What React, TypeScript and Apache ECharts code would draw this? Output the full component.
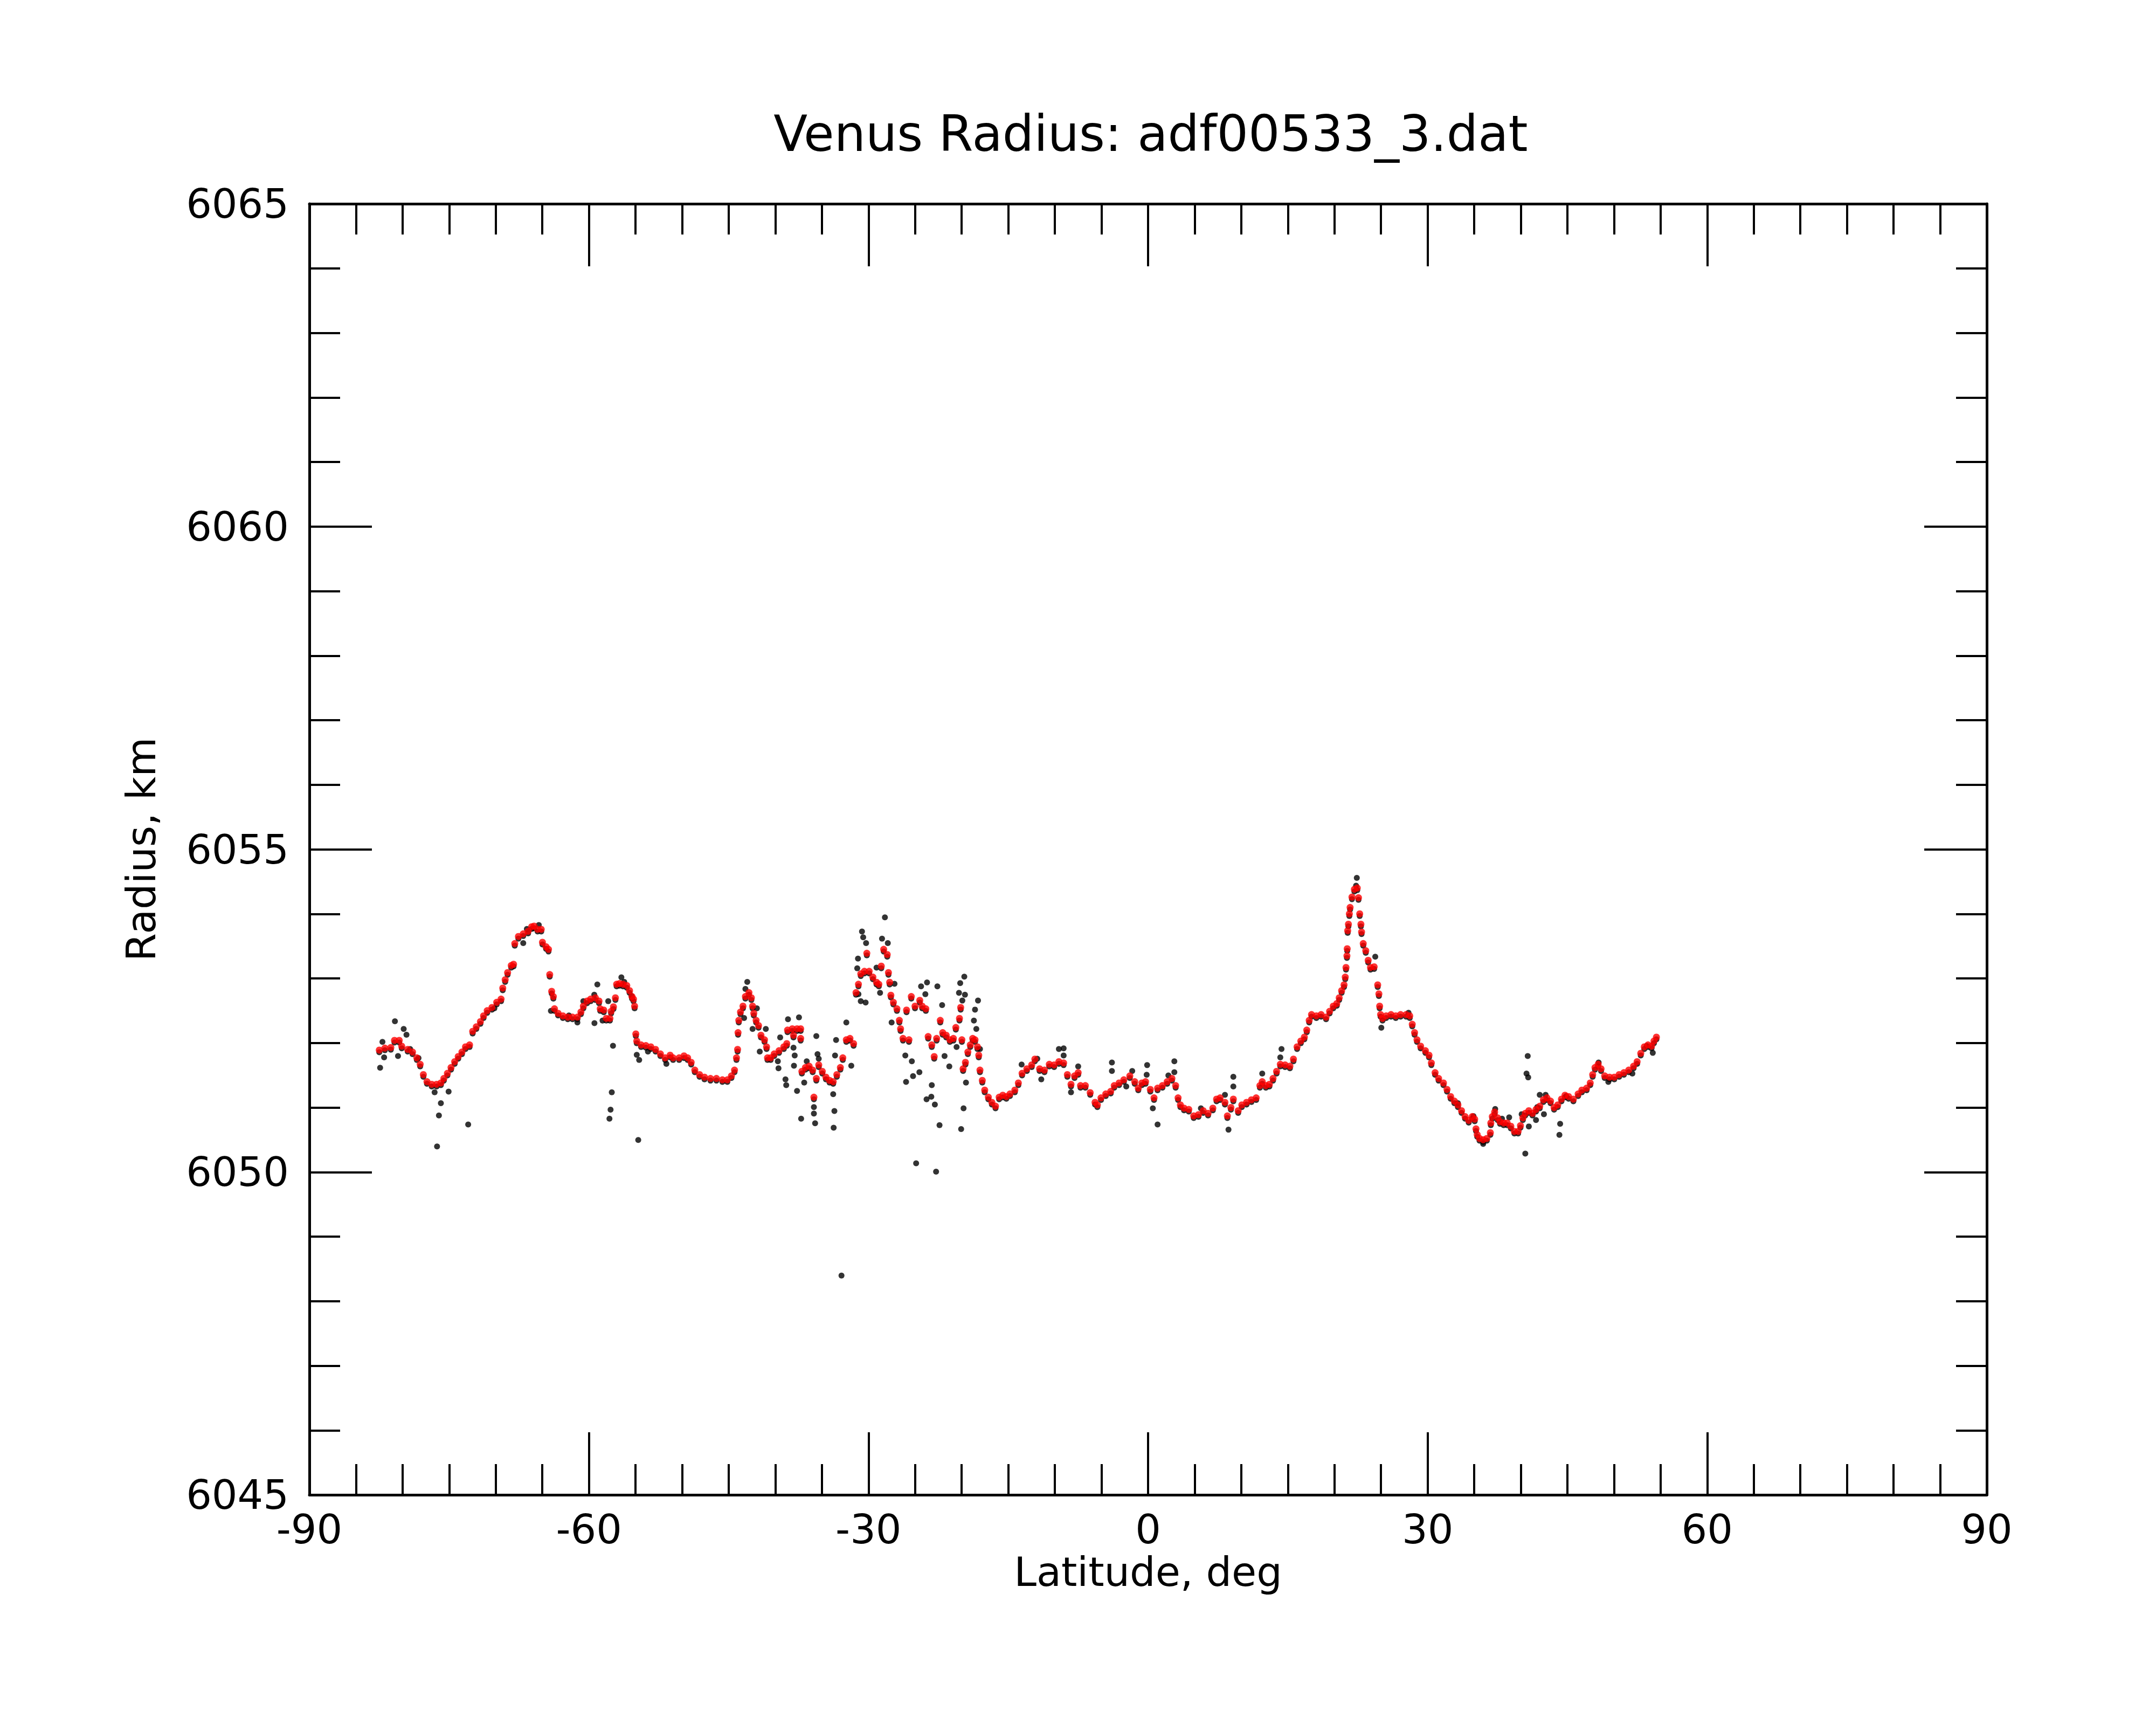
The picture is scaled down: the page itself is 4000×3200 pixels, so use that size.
import React, { useEffect, useRef } from "react";
import * as echarts from "echarts";

const titleText = "Venus Radius: adf00533_3.dat";
const xName = "Latitude, deg";
const yName = "Radius, km";

// smoothed radius (red), [latitude, radius]
const redSouthPolar: [number, number][] = [
  [-82.5, 6051.89], [-81.9, 6051.92], [-81.26, 6051.93], [-80.87, 6052.04], [-80.36, 6052.04],
  [-80.09, 6051.95], [-79.45, 6051.9], [-78.93, 6051.86], [-78.47, 6051.77], [-78.11, 6051.67],
  [-77.77, 6051.51], [-77.38, 6051.4], [-76.87, 6051.36], [-76.35, 6051.36], [-75.89, 6051.38],
  [-75.57, 6051.45], [-75.19, 6051.53], [-74.8, 6051.62], [-74.41, 6051.71], [-74.03, 6051.79],
  [-73.63, 6051.86], [-73.25, 6051.94], [-72.81, 6051.97], [-72.48, 6052.18], [-72.09, 6052.25],
  [-71.65, 6052.33], [-71.31, 6052.42], [-70.92, 6052.5], [-70.41, 6052.55], [-69.9, 6052.63],
  [-69.43, 6052.68], [-69.25, 6052.85], [-68.99, 6052.98], [-68.73, 6053.09], [-68.34, 6053.2],
  [-68.09, 6053.22], [-67.96, 6053.54], [-67.57, 6053.65], [-67.05, 6053.69], [-66.53, 6053.73],
  [-66.15, 6053.8], [-65.89, 6053.81], [-65.51, 6053.76], [-65.12, 6053.76], [-64.99, 6053.56],
  [-64.6, 6053.49], [-64.34, 6053.45], [-64.21, 6053.06], [-64.0, 6052.8], [-63.82, 6052.72],
  [-63.7, 6052.53], [-63.31, 6052.46], [-62.8, 6052.42], [-62.27, 6052.4], [-61.76, 6052.4],
  [-61.24, 6052.4], [-60.86, 6052.48], [-60.6, 6052.57], [-60.2, 6052.65], [-59.82, 6052.68],
  [-59.31, 6052.7], [-58.92, 6052.65], [-58.79, 6052.53], [-58.41, 6052.51], [-58.14, 6052.38],
  [-57.75, 6052.38], [-57.62, 6052.49], [-57.37, 6052.56], [-57.16, 6052.7], [-57.03, 6052.91],
  [-56.72, 6052.92], [-56.34, 6052.91], [-55.94, 6052.89], [-55.64, 6052.81], [-55.38, 6052.72],
  [-55.22, 6052.68], [-55.1, 6052.57], [-54.97, 6052.14], [-54.87, 6052.03], [-54.4, 6051.97],
  [-53.89, 6051.96], [-53.36, 6051.94], [-52.85, 6051.9], [-52.33, 6051.83], [-51.82, 6051.77],
  [-51.29, 6051.81],
];

const redMidSouth: [number, number][] = [
  [-50.97, 6051.77], [-50.32, 6051.77], [-49.8, 6051.8], [-49.41, 6051.77], [-49.03, 6051.7],
  [-48.64, 6051.58], [-48.13, 6051.51], [-47.6, 6051.47], [-46.96, 6051.45], [-46.32, 6051.45],
  [-45.68, 6051.43], [-45.15, 6051.43], [-44.71, 6051.49], [-44.38, 6051.58], [-44.17, 6051.77],
  [-44.05, 6051.9], [-44.0, 6052.16], [-43.92, 6052.35], [-43.74, 6052.48], [-43.47, 6052.57],
  [-43.21, 6052.72], [-42.83, 6052.78], [-42.57, 6052.7], [-42.44, 6052.57], [-42.31, 6052.46],
  [-42.06, 6052.35], [-41.8, 6052.27], [-41.54, 6052.12], [-41.16, 6052.05], [-40.94, 6051.94],
  [-40.84, 6051.77], [-40.5, 6051.77], [-40.12, 6051.83], [-39.6, 6051.88], [-39.09, 6051.94],
  [-38.77, 6051.99], [-38.69, 6052.2], [-38.18, 6052.22], [-38.05, 6052.12], [-37.67, 6052.22],
  [-37.28, 6052.22], [-37.28, 6052.07], [-37.15, 6051.56], [-36.77, 6051.62], [-36.37, 6051.64],
  [-35.99, 6051.58], [-35.86, 6051.16], [-35.6, 6051.45], [-35.34, 6051.66], [-34.96, 6051.56],
  [-34.57, 6051.47], [-34.18, 6051.42], [-33.79, 6051.4], [-33.4, 6051.51], [-33.02, 6051.62],
  [-32.76, 6051.77], [-32.38, 6052.05], [-31.99, 6052.07], [-31.6, 6051.99], [-31.34, 6052.78],
  [-31.08, 6052.91], [-30.83, 6053.07], [-30.44, 6053.11], [-30.18, 6053.39], [-29.93, 6053.11],
  [-29.53, 6053.02], [-29.14, 6052.94], [-28.89, 6052.91], [-28.63, 6053.19], [-28.37, 6053.45],
  [-27.99, 6053.37], [-27.86, 6053.09], [-27.73, 6052.94], [-27.6, 6052.74], [-27.33, 6052.63],
  [-26.95, 6052.53], [-26.69, 6052.35], [-26.56, 6052.22], [-26.3, 6052.07], [-25.92, 6052.51],
  [-25.66, 6052.05], [-25.41, 6052.72], [-25.01, 6052.57], [-24.5, 6052.66], [-24.24, 6052.57],
  [-23.85, 6052.53], [-23.6, 6052.1], [-23.21, 6051.97], [-22.95, 6051.79], [-22.69, 6052.07],
  [-22.3, 6052.35], [-22.04, 6052.16], [-21.66, 6052.12], [-21.27, 6052.05], [-20.89, 6052.07],
  [-20.63, 6052.24], [-20.24, 6052.38], [-20.11, 6052.55], [-19.98, 6052.05], [-19.85, 6051.6],
  [-19.6, 6051.7], [-19.34, 6051.86], [-19.08, 6051.97], [-18.82, 6052.07], [-18.57, 6052.05],
  [-18.31, 6051.94], [-18.17, 6051.81], [-18.04, 6051.58], [-17.79, 6051.42], [-17.53, 6051.27],
  [-17.14, 6051.16], [-16.76, 6051.08], [-16.37, 6051.02], [-15.98, 6051.16], [-15.59, 6051.19],
  [-15.21, 6051.17], [-14.82, 6051.21], [-14.3, 6051.27], [-13.92, 6051.38], [-13.52, 6051.53],
  [-13.01, 6051.6], [-12.49, 6051.66],
];

const redEquatorial: [number, number][] = [
  [-12.15, 6051.75], [-11.64, 6051.6], [-11.12, 6051.58], [-10.6, 6051.67], [-10.08, 6051.66],
  [-9.57, 6051.71], [-9.06, 6051.69], [-8.66, 6051.51], [-8.27, 6051.36], [-7.89, 6051.49],
  [-7.5, 6051.54], [-7.25, 6051.34], [-6.73, 6051.34], [-6.21, 6051.23], [-5.69, 6051.08],
  [-5.44, 6051.04], [-5.05, 6051.15], [-4.54, 6051.21], [-4.01, 6051.25], [-3.63, 6051.34],
  [-3.11, 6051.38], [-2.6, 6051.43], [-1.96, 6051.49], [-1.43, 6051.4], [-1.05, 6051.3],
  [-0.66, 6051.38], [-0.27, 6051.4], [0.24, 6051.28], [0.64, 6051.15], [1.02, 6051.3],
  [1.54, 6051.34], [2.05, 6051.4], [2.56, 6051.45], [2.96, 6051.34], [3.22, 6051.15],
  [3.47, 6051.04], [3.86, 6050.99], [4.37, 6050.97], [4.9, 6050.87], [5.41, 6050.89],
  [5.92, 6050.95], [6.44, 6050.91], [6.95, 6050.99], [7.35, 6051.13], [7.73, 6051.15],
  [8.25, 6051.08], [8.51, 6050.87], [8.89, 6051.0], [9.15, 6051.13], [9.67, 6050.95],
  [10.06, 6051.04], [10.57, 6051.08], [11.09, 6051.12], [11.6, 6051.15], [12.0, 6051.34],
  [12.25, 6051.4], [12.64, 6051.34], [13.02, 6051.36], [13.41, 6051.45], [13.79, 6051.56],
  [14.19, 6051.67], [14.7, 6051.66], [15.22, 6051.64], [15.6, 6051.75], [15.99, 6051.94],
  [16.39, 6052.03], [16.77, 6052.09], [17.03, 6052.2], [17.29, 6052.35], [17.54, 6052.44],
  [18.06, 6052.42], [18.57, 6052.44], [19.1, 6052.4], [19.48, 6052.49], [19.87, 6052.57],
  [20.25, 6052.61], [20.51, 6052.7], [20.77, 6052.81], [21.03, 6052.9], [21.16, 6053.02],
  [21.24, 6053.17], [21.34, 6053.35], [21.37, 6053.46], [21.42, 6053.74], [21.5, 6053.84],
  [21.6, 6054.0], [21.68, 6054.1], [21.88, 6054.26], [22.14, 6054.38], [22.45, 6054.4],
  [22.58, 6054.25], [22.71, 6054.0], [22.84, 6053.84], [22.91, 6053.72], [23.09, 6053.54],
  [23.36, 6053.43], [23.62, 6053.28], [23.87, 6053.17], [24.26, 6053.18], [24.64, 6052.9],
  [24.77, 6052.76], [24.85, 6052.57], [24.95, 6052.44], [25.16, 6052.38], [25.55, 6052.42],
  [26.07, 6052.44], [26.58, 6052.42], [27.1, 6052.44],
];

const redNorth: [number, number][] = [
  [27.69, 6052.44], [28.08, 6052.42], [28.35, 6052.29], [28.6, 6052.16], [28.86, 6052.05],
  [29.25, 6051.95], [29.76, 6051.88], [30.15, 6051.81], [30.4, 6051.69], [30.8, 6051.54],
  [31.18, 6051.45], [31.7, 6051.38], [32.08, 6051.28], [32.47, 6051.17], [32.87, 6051.1],
  [33.25, 6051.04], [33.64, 6050.95], [34.02, 6050.86], [34.41, 6050.8], [34.79, 6050.86],
  [35.05, 6050.82], [35.19, 6050.67], [35.32, 6050.58], [35.57, 6050.52], [35.96, 6050.5],
  [36.35, 6050.52], [36.73, 6050.61], [36.78, 6050.76], [36.94, 6050.86], [37.19, 6050.93],
  [37.51, 6050.84], [37.77, 6050.78], [38.16, 6050.76], [38.54, 6050.76], [38.93, 6050.71],
  [39.31, 6050.63], [39.71, 6050.63], [39.96, 6050.72], [40.22, 6050.84], [40.48, 6050.91],
  [40.86, 6050.95], [41.25, 6050.91], [41.63, 6050.97], [42.03, 6051.02], [42.42, 6051.12],
  [42.8, 6051.15], [43.19, 6051.1], [43.57, 6051.0], [43.96, 6051.04], [44.36, 6051.13],
  [44.74, 6051.19], [45.13, 6051.17], [45.64, 6051.13], [46.15, 6051.21], [46.55, 6051.27],
  [47.06, 6051.3], [47.45, 6051.38], [47.71, 6051.51], [47.96, 6051.62], [48.3, 6051.67],
  [48.61, 6051.6], [49.0, 6051.49], [49.52, 6051.47], [50.03, 6051.47], [50.55, 6051.51],
  [51.06, 6051.54], [51.58, 6051.58], [52.1, 6051.64], [52.48, 6051.71], [52.87, 6051.84],
  [53.25, 6051.94], [53.65, 6051.97], [54.03, 6051.95], [54.29, 6052.03], [54.55, 6052.09],
];

// raw radius points that stand apart from the smoothed curve (black)
const blackSouthPolar: [number, number][] = [
  [-82.41, 6051.65], [-81.98, 6051.81], [-82.16, 6052.05], [-80.82, 6052.37], [-79.88, 6052.25],
  [-79.58, 6052.16], [-80.49, 6051.83], [-79.19, 6051.94], [-78.29, 6051.8], [-76.56, 6051.27],
  [-75.89, 6051.1], [-76.1, 6050.91], [-76.3, 6050.43], [-75.06, 6051.28], [-72.96, 6050.77],
  [-70.15, 6052.57], [-67.05, 6053.58], [-66.66, 6053.8], [-65.38, 6053.86], [-64.08, 6052.53],
  [-62.15, 6052.46], [-61.24, 6052.35], [-60.6, 6052.68], [-59.41, 6052.34], [-59.1, 6052.94],
  [-59.43, 6052.78], [-58.54, 6052.38], [-57.93, 6052.68], [-57.42, 6051.99], [-57.55, 6051.27],
  [-57.68, 6051.0], [-57.8, 6050.86], [-56.52, 6053.05], [-56.21, 6052.98], [-55.43, 6052.76],
  [-54.87, 6051.85], [-54.61, 6051.77], [-54.71, 6050.53], [-53.67, 6051.9], [-51.69, 6051.71],
];

const blackMidSouth: [number, number][] = [
  [-43.01, 6052.98], [-43.21, 6052.87], [-43.35, 6052.42], [-42.44, 6052.25], [-41.98, 6052.57],
  [-41.67, 6051.9], [-41.02, 6052.25], [-39.73, 6051.75], [-39.66, 6051.64], [-39.48, 6052.12],
  [-38.91, 6051.47], [-38.83, 6051.38], [-38.64, 6052.4], [-38.05, 6051.96], [-37.92, 6051.84],
  [-38.0, 6051.68], [-37.46, 6052.43], [-37.67, 6051.29], [-37.23, 6050.86], [-36.9, 6051.42],
  [-36.63, 6051.75], [-35.6, 6052.14], [-35.47, 6051.86], [-35.34, 6051.79], [-35.86, 6051.04],
  [-35.86, 6050.94], [-35.73, 6050.79], [-33.79, 6051.24], [-33.66, 6050.98], [-33.74, 6050.72],
  [-33.48, 6052.08], [-33.59, 6051.84], [-32.38, 6052.35], [-31.85, 6051.68], [-32.9, 6048.43],
  [-31.08, 6052.79], [-31.13, 6053.34], [-30.7, 6053.76], [-30.57, 6053.67], [-30.26, 6053.58],
  [-31.21, 6053.19], [-30.83, 6052.68], [-30.31, 6052.66], [-28.55, 6053.65], [-28.24, 6053.98],
  [-27.93, 6053.58], [-29.14, 6053.2], [-28.76, 6052.81], [-27.21, 6052.95], [-27.52, 6052.35],
  [-26.05, 6051.84], [-25.97, 6051.43], [-25.35, 6051.75], [-25.22, 6051.52], [-24.54, 6051.58],
  [-24.89, 6050.17], [-22.75, 6050.04], [-23.77, 6051.16], [-23.26, 6051.2], [-23.21, 6051.38],
  [-22.88, 6051.08], [-22.38, 6050.76], [-23.72, 6052.97], [-24.36, 6052.91], [-23.9, 6052.79],
  [-22.61, 6052.91], [-22.1, 6052.62], [-21.84, 6051.83], [-21.33, 6051.67], [-20.55, 6051.97],
  [-20.16, 6052.96], [-19.72, 6053.06], [-20.29, 6052.81], [-19.65, 6052.78], [-19.93, 6052.69],
  [-19.54, 6051.42], [-19.8, 6051.02], [-20.06, 6050.7], [-18.25, 6052.69], [-18.57, 6052.55],
  [-18.43, 6052.25], [-18.69, 6052.38], [-18.04, 6051.94], [-13.57, 6051.7], [-11.46, 6051.47],
];

const blackEquatorial: [number, number][] = [
  [-11.89, 6051.79], [-9.57, 6051.94], [-9.06, 6051.95], [-9.06, 6051.84], [-7.5, 6051.67],
  [-8.27, 6051.27], [-3.88, 6051.73], [-3.88, 6051.6], [-1.7, 6051.6], [-2.34, 6051.36],
  [-0.1, 6051.69], [-0.15, 6051.54], [0.51, 6051.02], [1.02, 6050.77], [2.82, 6051.75],
  [2.82, 6051.58], [2.18, 6051.53], [9.15, 6051.51], [9.15, 6051.36], [8.63, 6050.69],
  [8.25, 6051.23], [5.67, 6051.02], [12.25, 6051.56], [14.32, 6051.94], [14.19, 6051.81],
  [24.38, 6053.37], [25.03, 6052.27], [22.4, 6054.59], [22.32, 6054.47],
];

const blackNorth: [number, number][] = [
  [27.95, 6052.5], [33.25, 6051.1], [34.92, 6050.9], [35.96, 6050.47], [37.25, 6051.01],
  [38.75, 6050.88], [37.98, 6050.86], [40.74, 6051.83], [40.61, 6051.56], [40.79, 6051.5],
  [40.48, 6050.32], [40.86, 6050.74], [40.09, 6050.93], [41.63, 6050.84], [42.03, 6051.23],
  [42.66, 6051.23], [42.48, 6050.93], [41.76, 6051.04], [44.22, 6050.78], [44.14, 6050.61],
  [44.87, 6051.21], [48.35, 6051.73], [49.39, 6051.43], [51.97, 6051.56], [53.51, 6051.99],
  [54.16, 6051.88],
];

const xTicks = { min: -90, max: 90, step: 30, minorSplit: 6 };
const yTicks = { min: 6045, max: 6065, step: 5, minorSplit: 5 };

const FONT = "DejaVu Sans";

export default function App() {
  const ref = useRef<HTMLDivElement | null>(null);

  useEffect(() => {
    if (!ref.current) return;
    const chart = echarts.init(ref.current, undefined, { renderer: "svg" });

    const red = [...redSouthPolar, ...redMidSouth, ...redEquatorial, ...redNorth];
    const black = [
      ...red,
      ...blackSouthPolar,
      ...blackMidSouth,
      ...blackEquatorial,
      ...blackNorth,
    ];

    const lineStyle = { color: "#000", width: 5 };
    const tickStyle = { color: "#000", width: 4 };

    const xBase = {
      type: "value" as const,
      min: xTicks.min,
      max: xTicks.max,
      interval: xTicks.step,
      splitLine: { show: false },
      axisLine: { show: true, onZero: false, lineStyle },
      axisTick: { show: true, inside: true, length: 116, lineStyle: tickStyle },
      minorTick: { show: true, splitNumber: xTicks.minorSplit, length: 57, lineStyle: tickStyle },
      minorSplitLine: { show: false },
    };
    const yBase = {
      type: "value" as const,
      min: yTicks.min,
      max: yTicks.max,
      interval: yTicks.step,
      splitLine: { show: false },
      axisLine: { show: true, onZero: false, lineStyle },
      axisTick: { show: true, inside: true, length: 116, lineStyle: tickStyle },
      minorTick: { show: true, splitNumber: yTicks.minorSplit, length: 57, lineStyle: tickStyle },
      minorSplitLine: { show: false },
    };

    chart.setOption({
      animation: false,
      backgroundColor: "#fff",
      title: {
        text: titleText,
        left: 2130,
        top: 197,
        textAlign: "center",
        textStyle: { fontFamily: FONT, fontSize: 92, fontWeight: "normal", color: "#000" },
      },
      grid: { left: 574, right: 314, top: 378, bottom: 427, containLabel: false },
      xAxis: [
        {
          ...xBase,
          position: "bottom",
          name: xName,
          nameLocation: "middle",
          nameGap: 90,
          nameTextStyle: { fontFamily: FONT, fontSize: 75, color: "#000" },
          axisLabel: {
            show: true,
            margin: 26,
            fontFamily: FONT,
            fontSize: 75,
            color: "#000",
            formatter: (v: number) => String(v),
          },
        },
        { ...xBase, position: "top", axisLabel: { show: false } },
      ],
      yAxis: [
        {
          ...yBase,
          position: "left",
          name: yName,
          nameLocation: "middle",
          nameRotate: 90,
          nameGap: 275,
          nameTextStyle: { fontFamily: FONT, fontSize: 75, color: "#000" },
          axisLabel: {
            show: true,
            margin: 38,
            fontFamily: FONT,
            fontSize: 75,
            color: "#000",
            formatter: (v: number) => String(v),
          },
        },
        { ...yBase, position: "right", axisLabel: { show: false } },
      ],
      series: [
        {
          name: "raw",
          type: "scatter",
          xAxisIndex: 0,
          yAxisIndex: 0,
          data: black,
          symbol: "circle",
          symbolSize: 11,
          symbolOffset: [0, 4],
          itemStyle: { color: "#000" },
          silent: true,
          z: 2,
        },
        {
          name: "smoothed",
          type: "scatter",
          xAxisIndex: 0,
          yAxisIndex: 0,
          data: red,
          symbol: "circle",
          symbolSize: 13,
          itemStyle: { color: "#ff0000" },
          silent: true,
          z: 3,
        },
      ],
    });

    return () => {
      chart.dispose();
    };
  }, []);

  return (
    <div
      ref={ref}
      style={{ position: "absolute", left: 0, top: 0, width: 4000, height: 3200, background: "#fff" }}
    />
  );
}
